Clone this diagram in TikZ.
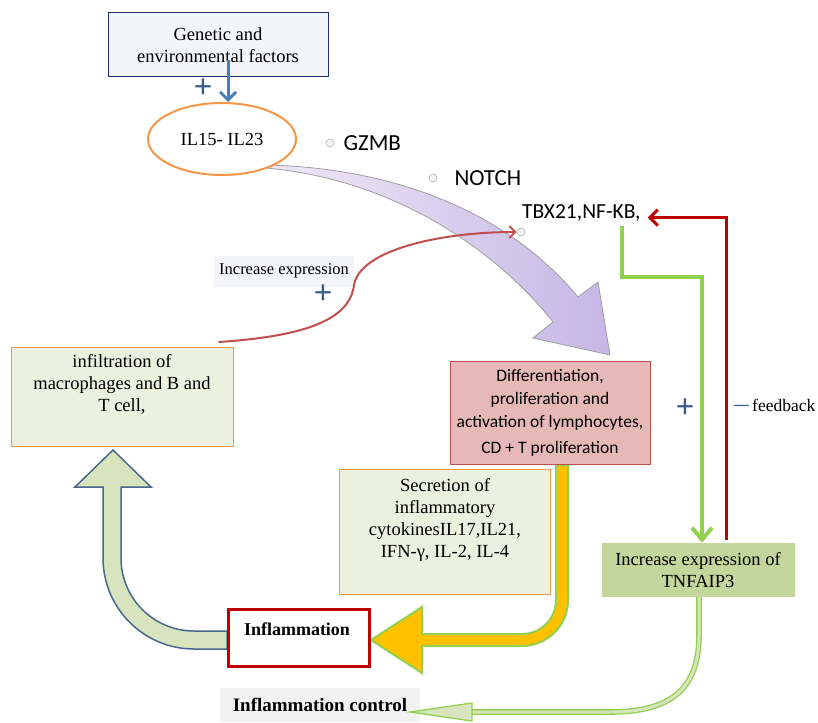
\documentclass[tikz,border=0pt]{standalone}
\usepackage{fontspec}
\setmainfont{Liberation Serif}
\newfontfamily\calfont{Carlito}
\usetikzlibrary{positioning}
\usetikzlibrary{calc}
\usetikzlibrary{arrows.meta}
\usetikzlibrary{shapes.geometric}
\definecolor{navyline}{HTML}{1F2F6F}
\definecolor{paleblue}{HTML}{F3F5F9}
\definecolor{steelblue}{HTML}{4A7EBB}
\definecolor{plusblue}{HTML}{3B5B8C}
\definecolor{orangeline}{HTML}{F79646}
\definecolor{palegreen}{HTML}{EBF1DE}
\definecolor{rosefill}{HTML}{E6B9B8}
\definecolor{roseline}{HTML}{B9504C}
\definecolor{olivefill}{HTML}{C3D69B}
\definecolor{limegreen}{HTML}{92D050}
\definecolor{amber}{HTML}{FFC000}
\definecolor{darkred}{HTML}{C00000}
\definecolor{curvered}{HTML}{C0504D}
\definecolor{sagefill}{HTML}{D7E4BD}
\definecolor{slateline}{HTML}{4A6790}
\definecolor{lavlight}{HTML}{EEE9F7}
\definecolor{lavdark}{HTML}{C7B6E6}
\definecolor{softgray}{HTML}{F2F2F2}
\tikzset{
    pathway/.style={
            x=1pt,y=-1pt,
            serif/.style={font=\fontsize{18.5}{22}\selectfont, align=center},
            gene/.style={font=\calfont\fontsize{23}{24}\selectfont, inner sep=1pt},
            plus/.style={font=\calfont\fontsize{34}{34}\selectfont, text=plusblue, inner sep=0pt},
            bullet/.style={circle, draw=gray!60, fill=gray!8, line width=.6pt, minimum size=8pt, inner sep=0pt},
            genbox/.style={serif, draw=navyline, line width=1pt, fill=paleblue, minimum width=220pt, minimum height=64pt},
            ilellipse/.style={serif, ellipse, draw=orangeline, line width=2pt, fill=white, minimum width=148pt, minimum height=72pt, inner sep=0pt},
            greenbox/.style={serif, draw=orangeline, line width=1pt, fill=palegreen},
            rosebox/.style={font=\calfont\fontsize{17.5}{23}\selectfont, align=center, draw=roseline, line width=1pt, fill=rosefill, minimum width=200pt, minimum height=103pt},
            olivebox/.style={serif, fill=olivefill, minimum width=193pt, minimum height=54pt},
            redbox/.style={serif, font=\bfseries\fontsize{18}{22}\selectfont, draw=darkred, line width=3pt, fill=white, minimum width=141pt, minimum height=57pt, text width=110pt, align=left},
            ctrlbox/.style={serif, font=\bfseries\fontsize{19}{22}\selectfont, fill=softgray, minimum width=200pt, minimum height=34pt},
            note/.style={font=\fontsize{16.5}{18}\selectfont, fill=paleblue, minimum width=140pt, minimum height=31pt},
            bluearrow/.style={draw=steelblue, line width=3pt, -{Straight Barb[length=8pt,width=16pt]}},
            redcurve/.style={draw=curvered, line width=2pt, -{Straight Barb[length=6pt,width=12pt]}},
            redarrow/.style={draw=darkred, line width=3pt, -{Straight Barb[length=8pt,width=16pt]}},
            greenarrow/.style={draw=limegreen, line width=4pt, -{Straight Barb[length=12pt,width=20pt]}},
            dblline/.style={draw=limegreen, line width=1.3pt, double=sagefill, double distance=3pt},
            openhead/.style={draw=limegreen, line width=1.3pt, fill=sagefill},
            bigarrow/.style={draw=gray!75, line width=.8pt, left color=lavlight, right color=lavdark},
            amberarrow/.style={draw=limegreen, line width=2pt, fill=amber},
            sagearrow/.style={draw=slateline, line width=1.5pt, fill=sagefill}
        }
    }
\begin{document}
\begin{tikzpicture}[pathway]
    \useasboundingbox (0,0) rectangle (818,722);
    \path [bigarrow] (266,165) .. controls (400,168) and (510,215) .. (578,297) -- (598,282) -- (610,355) -- (533,338) -- (553,322) .. controls (500,255) and (400,180) .. (266,168) -- cycle;
    \path [amberarrow] (568,465) -- (568,600) .. controls (568,625.4) and (547.4,646) .. (522,646) -- (422,646) -- (422,673) -- (371,640) -- (422,607) -- (422,634) -- (522,634) .. controls (540.8,634) and (556,618.8) .. (556,600) -- (556,465) -- cycle;
    \path [sagearrow] (227,631) -- (194,631) .. controls (153.7,631) and (121,598.3) .. (121,558) -- (121,487) -- (151,487) -- (113,450) -- (75,487) -- (103,487) -- (103,558) .. controls (103,608.2) and (143.8,649) .. (194,649) -- (227,649) -- cycle;
    \node (gen) [genbox] at (218,45) {Genetic and\\environmental factors};
    \node (il) [ilellipse] at (222,139) {IL15- IL23};
    \draw [bluearrow] ($(gen.south)+(10,-17)$) -- ($(il.north)+(6,0)$);
    \node (p1) [plus] at (203,88) {+};
    \node (b1) [bullet] at (330,143) {};
    \node (b2) [bullet] at (433,178) {};
    \node (b3) [bullet] at (521,232) {};
    \node (gzmb) [gene, right=8pt of b1] {GZMB};
    \node (notch) [gene, right=16pt of b2] {NOTCH};
    \node (tbx) [gene, font=\calfont\fontsize{21.5}{22}\selectfont, anchor=west] at (521,213) {TBX21,NF-KB,};
    \node (infil) [greenbox, minimum width=222pt, minimum height=99pt] at (122,397) {infiltration of\\macrophages and B and\\T cell,\\ \strut};
    \node (incr) [note] at (284,271) {Increase expression\\[-2pt]\strut};
    \node (p2) [plus] at (323,294) {+};
    \draw [redcurve] ($(infil.north east)+(-15,-5)$) .. controls (310,336) and (350,318) .. (354,285) .. controls (360,250) and (440,232) .. (b3);
    \node (diff) [rosebox] at (550,413) {Differentiation,\\proliferation and\\activation of lymphocytes,\\[3pt]CD + T proliferation};
    \node (secr) [greenbox, minimum width=211pt, minimum height=125pt] at (445,532) {Secretion of\\inflammatory\\cytokinesIL17,IL21,\\IFN-γ, IL-2, IL-4\\ \strut};
    \node (tnf) [olivebox] at (698,570) {Increase expression of\\TNFAIP3};
    \node (infl) [redbox] at (299,638) {Inflammation\\[-10pt]\strut};
    \node (ctrl) [ctrlbox] at (320,705) {Inflammation control};
    \coordinate (g1) at (622,277);
    \draw [greenarrow] ($(tbx.south -| g1)+(0,3)$) -- (g1) -| ($(tnf.north)+(4,0)$);
    \draw [redarrow] ($(tnf.north)+(28,-3)$) |- ($(tbx.base east)+(6,-1)$);
    \node (p3) [plus] at (685,408) {+};
    \node (fb) [serif, font=\fontsize{17.5}{22}\selectfont, anchor=west, inner sep=0pt] at (752,405) {feedback};
    \node (minus) [plus, font=\calfont\fontsize{20}{20}\selectfont, anchor=base east] at ($(fb.base west)+(-1,0)$) {—};
    \draw [dblline] ($(tnf.south)+(1,0)$) -- ++(0,35) .. controls (700,690) and (670,712) .. (610,712) -- (470,712);
    \path [openhead] (472,703) -- (410,712) -- (472,721) -- cycle;
\end{tikzpicture}
\end{document}
